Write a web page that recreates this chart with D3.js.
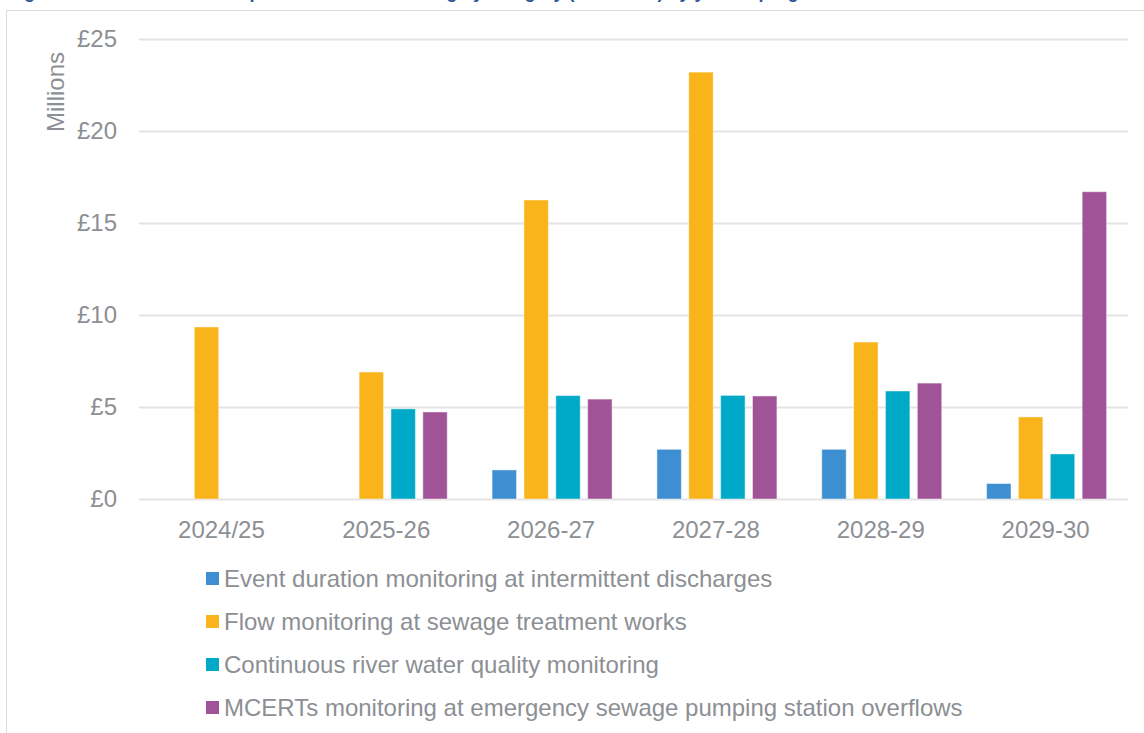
<!DOCTYPE html>
<html><head><meta charset="utf-8">
<script src="https://cdn.jsdelivr.net/npm/d3@7"></script>
<style>
html,body{margin:0;padding:0;background:#fff;overflow:hidden;}
svg{display:block;font-family:"Liberation Sans",Arial,sans-serif;}
</style></head>
<body>
<svg id="chart" width="1144" height="733"></svg>
<script>
const years = ["2024/25","2025-26","2026-27","2027-28","2028-29","2029-30"];
const seriesNames = [
  "Event duration monitoring at intermittent discharges",
  "Flow monitoring at sewage treatment works",
  "Continuous river water quality monitoring",
  "MCERTs monitoring at emergency sewage pumping station overflows"
];
const eventDuration = [0, 0, 1.58, 2.70, 2.70, 0.84];
const flowMonitoring = [9.35, 6.90, 16.25, 23.20, 8.53, 4.46];
const riverQuality = [0, 4.90, 5.62, 5.63, 5.87, 2.45];
const mcerts = [0, 4.73, 5.43, 5.60, 6.30, 16.70];
const seriesColors = ["#3d8fd1","#f9b31b","#00a9c7","#a05497"];
const yTicks = [0,5,10,15,20,25];

const svgEl = d3.select("#chart");
const allSeries = [eventDuration, flowMonitoring, riverQuality, mcerts];
const textGray = "#8c8f94";
const fs = 24;

// cut-off title and frame
svgEl.append("text").attr("x", 8).attr("y", -2)
  .attr("fill", "#2f5597").attr("font-weight", "bold").attr("font-size", 18)
  .text("Figure 3: Annual forecast expenditure on monitoring by category (£ millions) by year of programme");
svgEl.append("rect").attr("x", 6.5).attr("y", 10.5).attr("width", 1150).attr("height", 740)
  .attr("fill", "none").attr("stroke", "#dcdcdc").attr("stroke-width", 1);

const pLeft = 139, pRight = 1128, pTop = 39, pBottom = 499;
const x0 = d3.scaleBand().domain(years).range([pLeft, pRight]).paddingInner(0).paddingOuter(0);
const x1 = d3.scaleBand().domain(d3.range(4)).range([0, 120]).paddingInner(7/30).paddingOuter(0);
const y = d3.scaleLinear().domain([0, 25]).range([pBottom, pTop]);

// gridlines
const yAxis = d3.axisLeft(y).tickValues(yTicks).tickSize(-(pRight-pLeft)).tickFormat(d => "£" + d).tickPadding(22);
const gy = svgEl.append("g").attr("transform", `translate(${pLeft},0)`).call(yAxis);
gy.select(".domain").remove();
gy.selectAll(".tick line").attr("stroke", "#e3e3e3").attr("stroke-width", 2);
gy.selectAll(".tick text").attr("fill", textGray).attr("font-size", fs)
  .attr("font-family", "Liberation Sans, Arial, sans-serif");

// y title
svgEl.append("text").attr("transform", "translate(64,92) rotate(-90)")
  .attr("text-anchor", "middle").attr("fill", textGray).attr("font-size", fs).text("Millions");

// bars
const groupW = 4 * x1.step() - x1.step() * x1.paddingInner();
const groups = svgEl.append("g").selectAll("g").data(years).join("g")
  .attr("transform", d => `translate(${x0(d) + (x0.bandwidth() - groupW)/2 + 1},0)`);
groups.selectAll("rect").data((d, i) => allSeries.map((s, k) => ({k, v: s[i]})).filter(e => e.v > 0))
  .join("rect")
  .attr("x", d => x1(d.k))
  .attr("width", x1.bandwidth())
  .attr("y", d => y(d.v))
  .attr("height", d => y(0) - y(d.v))
  .attr("fill", d => seriesColors[d.k])
  .attr("stroke", "#ffffff").attr("stroke-opacity", 0.45).attr("stroke-width", 1);

// x axis labels
const xAxis = d3.axisBottom(x0).tickSize(0).tickPadding(22);
const gx = svgEl.append("g").attr("transform", `translate(0,${pBottom})`).call(xAxis);
gx.select(".domain").remove();
gx.selectAll(".tick text").attr("fill", textGray).attr("font-size", fs)
  .attr("font-family", "Liberation Sans, Arial, sans-serif");

// legend
const legend = svgEl.append("g").selectAll("g").data(seriesNames).join("g")
  .attr("transform", (d, i) => `translate(206,${579 + i*43})`);
legend.append("rect").attr("x", 0).attr("y", -7).attr("width", 13).attr("height", 13)
  .attr("fill", (d, i) => seriesColors[i]);
legend.append("text").attr("x", 18).attr("y", 8).attr("fill", textGray).attr("font-size", fs).text(d => d);
</script>
</body></html>
